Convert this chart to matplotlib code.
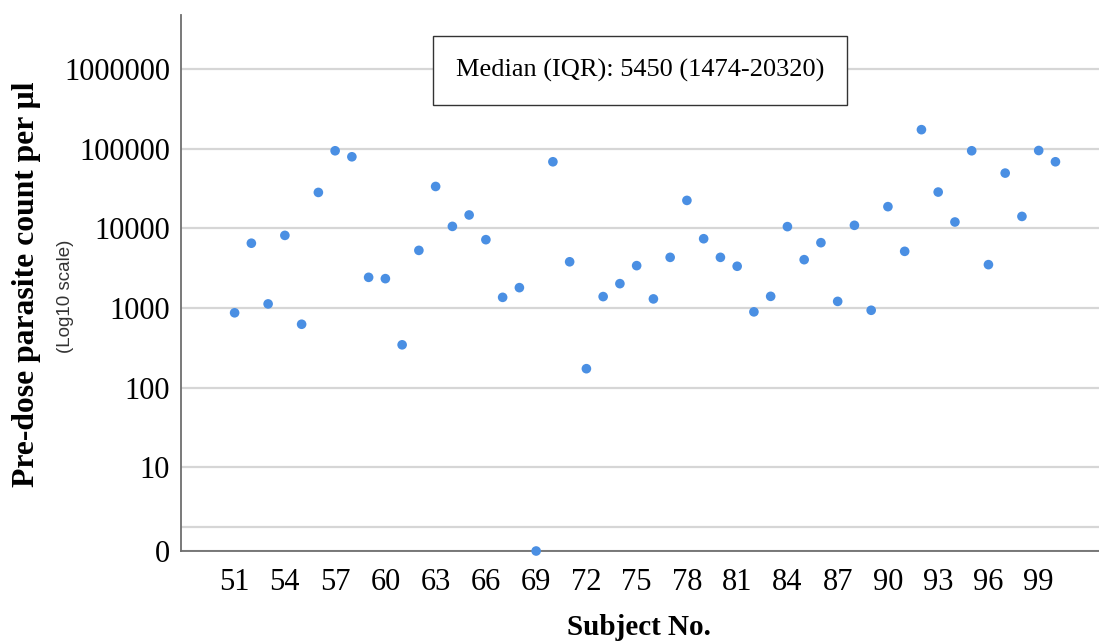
import numpy as np
import matplotlib.pyplot as plt

subjects = np.arange(51, 101)
counts = [870, 6500, 1125, 8150, 625, 28200, 94000, 79000, 2425, 2335,
          345, 5285, 33500, 10570, 14700, 7200, 1360, 1800, 0, 68400,
          3800, 173, 1390, 2020, 3400, 1300, 4320, 22400, 7400, 4320,
          3340, 894, 1400, 10500, 4040, 6600, 1210, 10900, 936, 18700,
          5140, 173000, 28500, 12000, 94000, 3500, 49300, 14100, 94700, 68400]
ytick_vals = [0, 1.77, 10, 100, 1000, 10000, 100000, 1000000]
ytick_labels = ['0', '', '10', '100', '1000', '10000', '100000', '1000000']
xtick_vals = list(range(51, 100, 3))


def fwd(v):
    v = np.asarray(v, dtype=float)
    return np.where(v >= 1, np.log10(np.maximum(v, 1)), (v - 1) * 0.05)


def inv(t):
    t = np.asarray(t, dtype=float)
    return np.where(t >= 0, 10 ** t, t / 0.05 + 1)


serif = 'Liberation Serif'

fig = plt.figure(figsize=(10.99, 6.44), dpi=100)
ax = fig.add_axes([0.1647, 0.1444, 0.8353, 0.8323])
ax.set_yscale('function', functions=(fwd, inv))
ax.set_ylim(0, 10 ** 6.677)
ax.set_xlim(47.8, 102.6)

ax.scatter(subjects, counts, s=48, color='#4a8fe3', zorder=3, clip_on=False,
           edgecolors='none')

ax.set_yticks(ytick_vals)
ax.set_yticklabels(ytick_labels)
ax.set_xticks(xtick_vals)
ax.tick_params(length=0, labelsize=22)
ax.tick_params(axis='y', pad=8)
ax.tick_params(axis='x', pad=12)
for lab in ax.get_xticklabels() + ax.get_yticklabels():
    lab.set_fontfamily(serif)
ax.minorticks_off()

ax.grid(axis='y', color='#d6d6d6', linewidth=1.6)
ax.set_axisbelow(True)
for side in ['top', 'right']:
    ax.spines[side].set_visible(False)
for side in ['left', 'bottom']:
    ax.spines[side].set_color('#6e6e6e')
    ax.spines[side].set_linewidth(1.3)

fig.text(0.581, 0.025, 'Subject No.', fontsize=21, fontweight='bold',
         family=serif, ha='center', va='center')
fig.text(0.0237, 0.559, 'Pre-dose parasite count per µl', fontsize=22.8,
         fontweight='bold', family=serif, rotation=90, ha='center', va='center')
fig.text(0.06, 0.54, '(Log10 scale)', fontsize=13.5, family='Liberation Sans',
         color='#333333', rotation=90, ha='center', va='center')

ax.text(0.5, 0.896, 'Median (IQR): 5450 (1474-20320)', transform=ax.transAxes,
        fontsize=19, family=serif, ha='center', va='center', zorder=5,
        bbox=dict(boxstyle='square,pad=0.87', facecolor='white',
                  edgecolor='#333333', linewidth=1.0))

fig.savefig('out.png', dpi=100)
